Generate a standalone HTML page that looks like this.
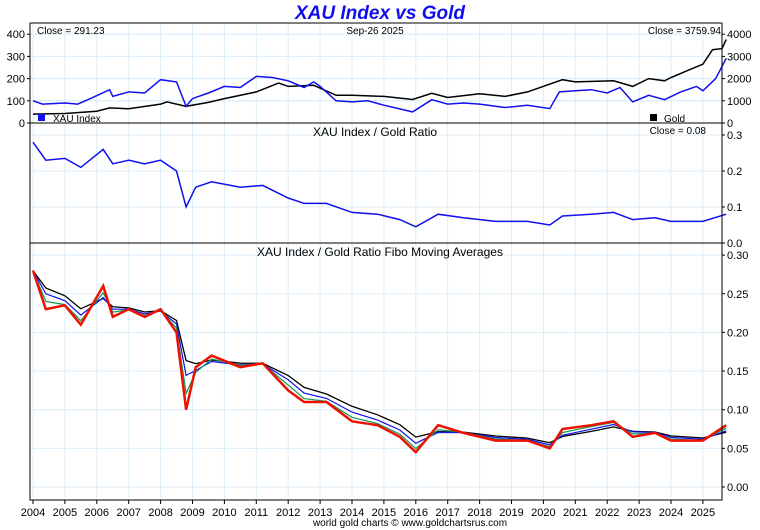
<!DOCTYPE html>
<html><head><meta charset="utf-8"><style>
body{margin:0;background:#fff;}
svg{display:block;font-family:"Liberation Sans",sans-serif;}
</style></head><body>
<svg id="c" width="760" height="530">
<text x="380" y="19" text-anchor="middle" font-size="19" font-weight="bold" font-style="italic" fill="#1010ee">XAU Index vs Gold</text>
<g id="grid"></g>
<g id="marks"></g>
<g id="frame"></g>
</svg>
<script>
const xauYears=[2004.0,2004.3,2005.0,2005.4,2005.8,2006.4,2006.5,2007.0,2007.5,2008.0,2008.5,2008.8,2009.0,2009.5,2010.0,2010.5,2011.0,2011.5,2012.0,2012.5,2012.8,2013.0,2013.5,2014.0,2014.5,2015.0,2015.9,2016.5,2017.0,2017.5,2018.0,2018.8,2019.5,2020.2,2020.5,2021.0,2021.5,2022.0,2022.4,2022.8,2023.3,2023.8,2024.3,2024.8,2025.0,2025.4,2025.73];
const xauValues=[100,85,90,85,110,150,120,140,135,195,185,75,110,135,165,160,210,205,190,160,185,165,100,95,100,80,50,105,85,90,85,70,80,65,140,145,150,135,160,95,125,105,140,165,145,200,291];
const goldYears=[2004,2005,2006,2006.4,2007,2008,2008.2,2008.8,2009.5,2010,2011,2011.7,2012,2012.8,2013.5,2014,2015,2015.9,2016.5,2017,2018,2018.8,2019.5,2020.6,2021,2022.2,2022.8,2023.3,2023.8,2024,2024.5,2025,2025.3,2025.6,2025.73];
const goldValues=[400,430,530,680,640,850,950,750,930,1100,1400,1800,1650,1700,1250,1250,1200,1060,1340,1150,1320,1200,1400,1950,1850,1900,1650,2000,1900,2050,2350,2650,3300,3350,3760];
const ratioYears=[2004,2004.4,2005,2005.5,2006.2,2006.5,2007,2007.5,2008,2008.5,2008.8,2009.1,2009.6,2010.5,2011.2,2012,2012.5,2013.2,2014,2014.8,2015.5,2016,2016.7,2017.5,2018.5,2019.5,2020.2,2020.6,2021.5,2022.2,2022.8,2023.5,2024,2025,2025.73];
const ratioValues=[0.28,0.23,0.235,0.21,0.26,0.22,0.23,0.22,0.23,0.20,0.10,0.155,0.17,0.155,0.16,0.125,0.11,0.11,0.085,0.08,0.065,0.045,0.08,0.07,0.06,0.06,0.05,0.075,0.08,0.085,0.065,0.07,0.06,0.06,0.08];
const yearLabels=["2004","2005","2006","2007","2008","2009","2010","2011","2012","2013","2014","2015","2016","2017","2018","2019","2020","2021","2022","2023","2024","2025"];
const xauTicks=[0,100,200,300,400];
const goldTicks=[0,1000,2000,3000,4000];
const ratioTicks=[0.0,0.1,0.2,0.3];
const fiboTicks=[0.00,0.05,0.10,0.15,0.20,0.25,0.30];

const NS="http://www.w3.org/2000/svg";
const L=30,R=722;
const x=y=>33+(y-2004)*31.9;
const yX=v=>123-v*0.222, yG=v=>123-v*0.0222, yR=v=>243-v*360, yF=v=>487-v*773;
function el(tag,attrs,parent){const e=document.createElementNS(NS,tag);for(const k in attrs)e.setAttribute(k,attrs[k]);parent.appendChild(e);return e;}
const grid=document.getElementById('grid'),marks=document.getElementById('marks'),frame=document.getElementById('frame');
// vertical grid
yearLabels.forEach((lab,i)=>{const xx=x(2004+i);
 const g=el('line',{x1:xx,x2:xx,y1:23,y2:500,stroke:'#dceefa','stroke-width':1},grid);
 
 
 el('line',{x1:xx,x2:xx,y1:500,y2:504,stroke:'#000'},frame);
 const t=el('text',{x:xx,y:516,'font-size':11,'text-anchor':'middle'},frame);t.textContent=lab;
 
 
});
function hgrid(ticks,fy,fmt,side,name){ticks.forEach(v=>{const yy=fy(v);
 el('line',{x1:L,x2:R,y1:yy,y2:yy,stroke:'#dceefa'},grid);
 const tx=side==='l'?L-3:R+3;
 el('line',{x1:side==='l'?L-3:R,x2:side==='l'?L:R+3,y1:yy,y2:yy,stroke:'#000'},frame);
 const t=el('text',{x:side==='l'?L-5:R+5,y:yy+4,'font-size':11,'text-anchor':side==='l'?'end':'start'},frame);
 t.textContent=fmt(v);
 
 
});}
hgrid(xauTicks,yX,v=>v,'l','xau-axis-label');
hgrid(goldTicks,yG,v=>v,'r','gold-axis-label');
hgrid(ratioTicks,yR,v=>v.toFixed(1),'r','ratio-axis-label');
hgrid(fiboTicks,yF,v=>v.toFixed(2),'r','fibo-axis-label');
function line(xs,vs,fy,color,w,name){const d=xs.map((t,i)=>(i?'L':'M')+x(t).toFixed(1)+','+fy(vs[i]).toFixed(1)).join('');
 const p=el('path',{d:d,fill:'none',stroke:color,'stroke-width':w},marks);
 
 }
line(goldYears,goldValues,yG,'#000',1.5,'gold-line');
line(xauYears,xauValues,yX,'#1010ee',1.5,'xau-line');
line(ratioYears,ratioValues,yR,'#1010ee',1.5,'ratio-line');
// moving averages (lagged smoothing of ratio)
function ema(vs,a){const o=[];let s=vs[0];vs.forEach(v=>{s=s+a*(v-s);o.push(s);});return o;}
line(ratioYears,ema(ratioValues,0.45),yF,'#000',1.3,'ma-slow');
line(ratioYears,ema(ratioValues,0.6),yF,'#1010ee',1.2,'ma-medium');
line(ratioYears,ema(ratioValues,0.8),yF,'#119955',1.2,'ma-fast');
line(ratioYears,ratioValues,yF,'#ee1100',2.5,'ratio-red');
// frames
[[23,123],[123,243],[243,500]].forEach(([a,b])=>el('rect',{x:L,y:a,width:R-L,height:b-a,fill:'none',stroke:'#000','stroke-width':1},frame));
function txt(s,X,Y,size,anchor,name){const t=el('text',{x:X,y:Y,'font-size':size,'text-anchor':anchor},frame);t.textContent=s;
 
 }
txt('Close = 291.23',37,34,10,'start','xau-close');
txt('Sep-26  2025',375,34,10,'middle','date-label');
txt('Close = 3759.94',721,34,10,'end','gold-close');
el('rect',{x:38,y:114,width:7,height:7,fill:'#1010ee'},frame);
txt('XAU Index',53,122,10,'start','legend-xau');
el('rect',{x:650,y:114,width:7,height:7,fill:'#000'},frame);
txt('Gold',664,122,10,'start','legend-gold');
txt('XAU Index / Gold Ratio',375,136,12,'middle','ratio-title');
txt('Close = 0.08',706,134,10,'end','ratio-close');
txt('XAU Index / Gold Ratio Fibo Moving Averages',380,256,12,'middle','fibo-title');
txt('world gold charts © www.goldchartsrus.com',410,526,10,'middle','footer-credit');
</script>
</body></html>
